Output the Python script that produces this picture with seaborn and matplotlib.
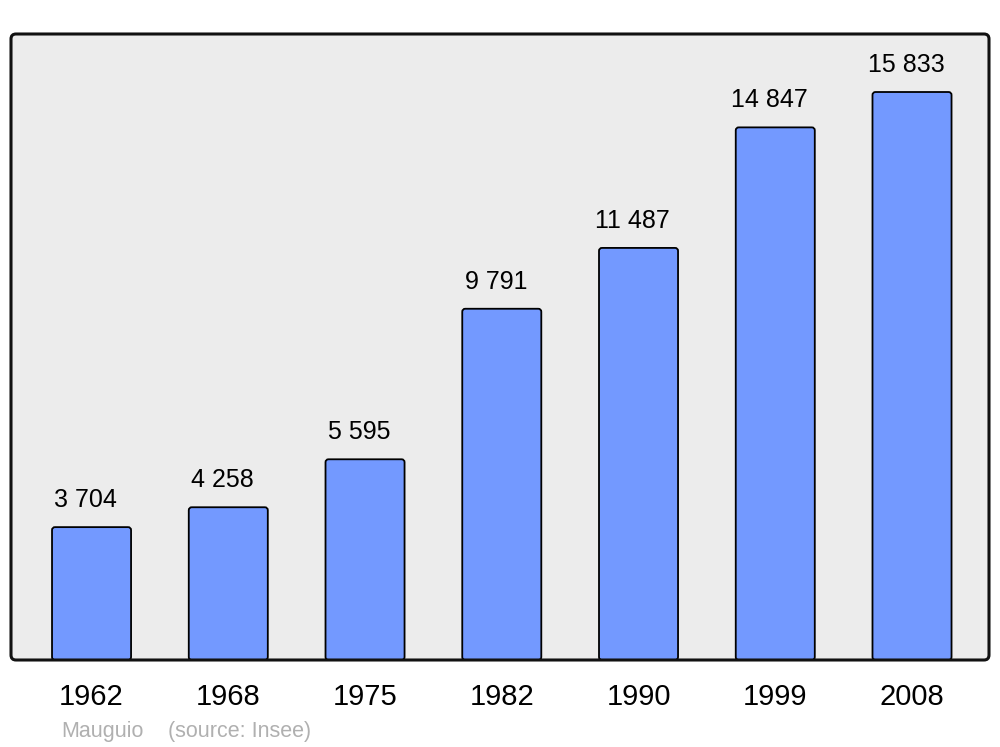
import matplotlib
matplotlib.use("Agg")
import matplotlib.pyplot as plt
from matplotlib.patches import FancyBboxPatch
from matplotlib.transforms import IdentityTransform
import seaborn as sns
import pandas as pd

years = ["1962", "1968", "1975", "1982", "1990", "1999", "2008"]
population = [3704, 4258, 5595, 9791, 11487, 14847, 15833]
labels = ["3 704", "4 258", "5 595", "9 791", "11 487", "14 847", "15 833"]

sns.set_theme(style="white")
plt.rcParams['font.family'] = ['Liberation Sans', 'DejaVu Sans']

df = pd.DataFrame({"year": years, "pop": population})

fig = plt.figure(figsize=(10, 7.47), dpi=100)
ax = fig.add_axes([0.011, 87 / 747, 0.978, 626 / 747])
ax.set_facecolor("none")
ax.set_zorder(2)

# rounded frame with light grey background
frame_bg = FancyBboxPatch((11, 87), 978, 626, boxstyle="round,pad=0,rounding_size=5",
                          transform=IdentityTransform(), facecolor="#ECECEC",
                          edgecolor="none", zorder=-5)
fig.patches.append(frame_bg)

sns.barplot(data=df, x="year", y="pop", ax=ax, color="#7399FF", width=0.578,
            edgecolor="black", linewidth=1.3, saturation=1)

ax.set_xlim(-0.589, 6.563)
ax.set_ylim(0, 17450)

# replace bars with rounded versions
for p in list(ax.patches):
    x, y = p.get_x(), p.get_y()
    w, h = p.get_width(), p.get_height()
    rb = FancyBboxPatch((x, y), w, h,
                        boxstyle="round,pad=0,rounding_size=0.022",
                        mutation_aspect=3800,
                        facecolor="#7399FF", edgecolor="black", linewidth=1.3,
                        zorder=2)
    p.remove()
    ax.add_patch(rb)

for i, (v, lab) in enumerate(zip(population, labels)):
    ax.annotate(lab, xy=(i, v), xytext=(-4.3, 19.5), textcoords="offset points",
                ha="center", va="center", fontsize=18, color="black")

for s in ax.spines.values():
    s.set_visible(False)

frame = FancyBboxPatch((11, 87), 978, 626, boxstyle="round,pad=0,rounding_size=5",
                       transform=IdentityTransform(), facecolor="none",
                       edgecolor="#111111", linewidth=2.2, zorder=10)
fig.patches.append(frame)

ax.set_xlabel("")
ax.set_ylabel("")
ax.set_yticks([])
ax.tick_params(axis="x", length=0, pad=16.5, labelsize=21, labelcolor="black")

fig.text(0.061, 1 - 731 / 747, "Mauguio", fontsize=15.5, color="#B0B0B0",
         ha="left", va="center")
fig.text(0.168, 1 - 731 / 747, "(source: Insee)", fontsize=15.5, color="#B0B0B0",
         ha="left", va="center")

fig.savefig("out.png", dpi=100, facecolor="white")
